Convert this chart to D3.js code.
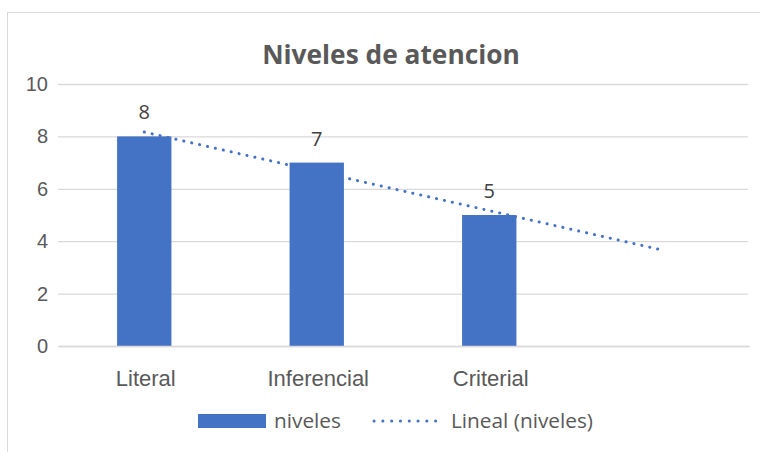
<!DOCTYPE html>
<html>
<head>
<meta charset="utf-8">
<script src="https://cdn.jsdelivr.net/npm/d3@7"></script>
<style>
  body { margin: 0; background: #fff; }
  svg { display: block; font-family: "Open Sans", sans-serif; }
</style>
</head>
<body>
<div id="grafico"></div>
<script>
// datos
const categorias = ["Literal", "Inferencial", "Criterial"];
const niveles = [8, 7, 5];
const ticks_y = [0, 2, 4, 6, 8, 10];
const titulo = "Niveles de atencion";
const leyenda = ["niveles", "Lineal (niveles)"];

const largura = 760, altura = 452;
const margem = { superior: 84, inferior: 106, esquerda: 58, direita: 12 };
const cor_barra = "#4472C4";
const cor_texto = "#595959";

// Excel extiende el eje una categoria por el pronostico de la linea de tendencia
const dominio_x = [...categorias, ""];

const escala_x = d3.scaleBand(dominio_x, [margem.esquerda, largura - margem.direita])
  .paddingInner(0.685).paddingOuter(0.3425);
const escala_y = d3.scaleLinear([0, 10], [altura - margem.inferior, margem.superior]);

// tendencia lineal (minimos cuadrados)
const xs = niveles.map((d, i) => i + 1);
const mx = d3.mean(xs), my = d3.mean(niveles);
const pend = d3.sum(xs, (x, i) => (x - mx) * (niveles[i] - my)) / d3.sum(xs, x => (x - mx) ** 2);
const inter = my - pend * mx;
const tendencia = dominio_x.map((c, i) => ({ c, v: inter + pend * (i + 1) }));

const svg = d3.select("#grafico").append("svg")
  .attr("width", largura)
  .attr("height", altura)
  .attr("viewBox", [0, 0, largura, altura]);

// borde del grafico
svg.append("rect")
  .attr("x", 7.5).attr("y", 12.5)
  .attr("width", 800).attr("height", 500)
  .attr("fill", "none").attr("stroke", "#d9d9d9");

// titulo
svg.append("text")
  .attr("x", 391).attr("y", 64)
  .attr("text-anchor", "middle")
  .attr("fill", cor_texto)
  .attr("font-size", 26.3).attr("font-weight", "bold")
  .text(titulo);

// eje y + rejilla
svg.append("g")
  .attr("transform", `translate(${margem.esquerda},0)`)
  .call(d3.axisLeft(escala_y).tickValues(ticks_y).tickSize(0).tickPadding(10))
  .call(g => g.select(".domain").remove())
  .call(g => g.selectAll(".tick line").clone()
      .attr("x2", largura - margem.esquerda - margem.direita)
      .attr("stroke", "#d9d9d9").attr("stroke-width", 1.3))
  .call(g => g.selectAll("text").attr("fill", cor_texto).attr("font-size", 20));

// barras
svg.append("g")
  .attr("fill", cor_barra)
  .selectAll("rect")
  .data(categorias)
  .join("rect")
    .attr("x", d => escala_x(d))
    .attr("y", (d, i) => escala_y(niveles[i]))
    .attr("width", escala_x.bandwidth())
    .attr("height", (d, i) => escala_y(0) - escala_y(niveles[i]));

// eje x
svg.append("g")
  .attr("transform", `translate(1.5,${altura - margem.inferior})`)
  .call(d3.axisBottom(escala_x).tickValues(categorias).tickSize(0).tickPadding(24))
  .call(g => g.select(".domain").attr("stroke", "#d9d9d9").attr("stroke-width", 1.3))
  .call(g => g.selectAll("text").attr("fill", cor_texto).attr("font-size", 22));

// etiquetas de datos
svg.append("g")
  .attr("text-anchor", "middle")
  .attr("fill", "#404040")
  .attr("font-size", 20)
  .selectAll("text")
  .data(categorias)
  .join("text")
    .attr("x", d => escala_x(d) + escala_x.bandwidth() / 2)
    .attr("y", (d, i) => escala_y(niveles[i]) - 17)
    .text((d, i) => niveles[i]);

// linea de tendencia
const cx = d => escala_x(d) + escala_x.bandwidth() / 2;
svg.append("path")
  .datum(tendencia)
  .attr("fill", "none")
  .attr("stroke", cor_barra)
  .attr("stroke-width", 3)
  .attr("stroke-linecap", "round")
  .attr("stroke-dasharray", "0.1 8")
  .attr("d", d3.line().x(d => cx(d.c)).y(d => escala_y(d.v)));

// leyenda
const ley = svg.append("g").attr("fill", cor_texto).attr("font-size", 20.8);
ley.append("rect")
  .attr("x", 198).attr("y", 414).attr("width", 68).attr("height", 14)
  .attr("fill", cor_barra);
ley.append("text").attr("x", 274).attr("y", 428).text(leyenda[0]);
ley.append("line")
  .attr("x1", 374).attr("x2", 444).attr("y1", 421).attr("y2", 421)
  .attr("stroke", cor_barra).attr("stroke-width", 3)
  .attr("stroke-linecap", "round").attr("stroke-dasharray", "0.1 8.7");
ley.append("text").attr("x", 451).attr("y", 428).text(leyenda[1]);
</script>
</body>
</html>
